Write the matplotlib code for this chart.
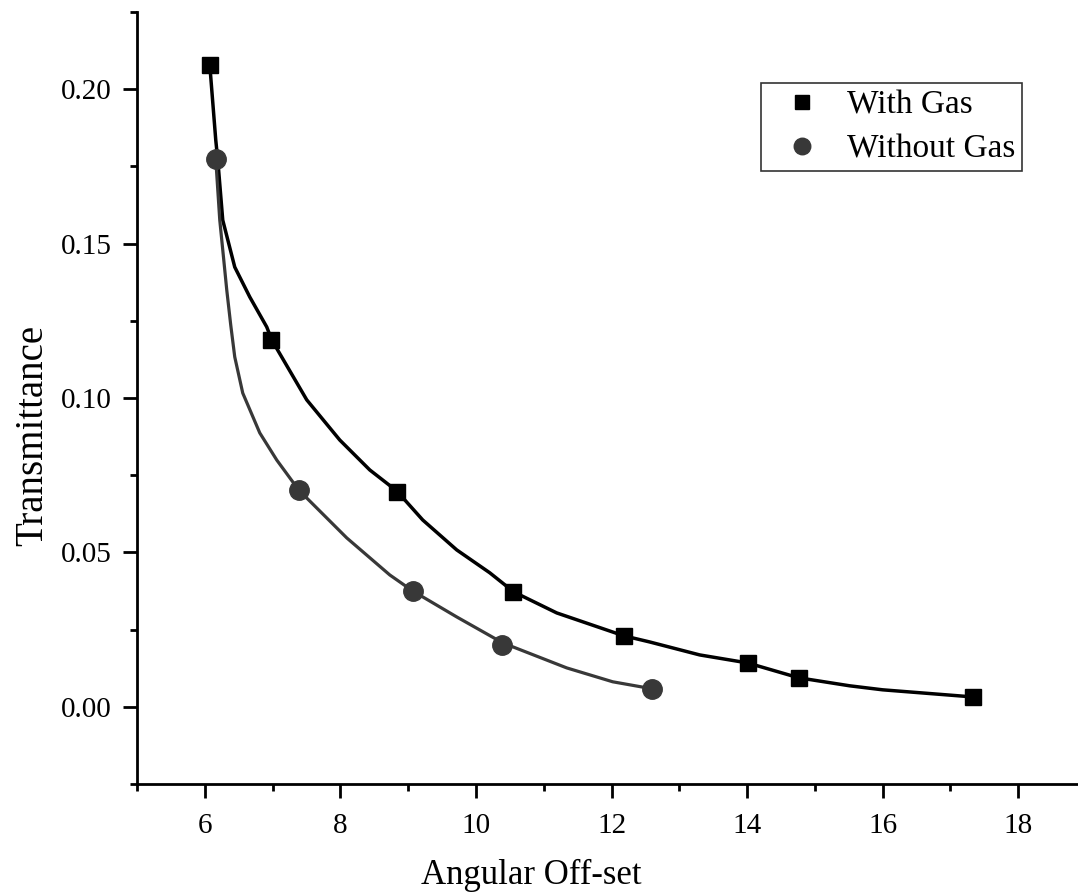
import matplotlib
matplotlib.use("Agg")
import matplotlib.pyplot as plt
from matplotlib.ticker import MultipleLocator, FormatStrFormatter

plt.rcParams["font.family"] = ["Liberation Serif", "DejaVu Serif"]

# measured points
gas_x = [6.07, 6.98, 8.83, 10.54, 12.18, 14.01, 14.76, 17.33]
gas_y = [0.2078, 0.1188, 0.0697, 0.0372, 0.0230, 0.0142, 0.0094, 0.0032]

nogas_x = [6.16, 7.39, 9.07, 10.39, 12.60]
nogas_y = [0.1773, 0.0702, 0.0376, 0.0201, 0.0057]

# smooth curves
gas_curve_x = [6.074, 6.162, 6.192, 6.265, 6.442, 6.664, 6.914, 6.988, 7.504,
               7.991, 8.434, 8.832, 9.215, 9.717, 10.204, 10.558, 11.192,
               12.180, 12.563, 13.301, 14.009, 14.761, 15.513, 16.000, 17.327]
gas_curve_y = [0.2078, 0.1835, 0.1770, 0.1576, 0.1424, 0.1327, 0.1230, 0.1188,
               0.0994, 0.0864, 0.0767, 0.0699, 0.0605, 0.0508, 0.0434, 0.0372,
               0.0304, 0.0230, 0.0210, 0.0168, 0.0142, 0.0094, 0.0068, 0.0055,
               0.0032]

nogas_curve_x = [6.162, 6.221, 6.280, 6.324, 6.383, 6.442, 6.560, 6.811, 7.062,
                 7.386, 8.094, 8.729, 9.068, 9.717, 10.395, 11.339, 12.018,
                 12.608]
nogas_curve_y = [0.1773, 0.1576, 0.1447, 0.1350, 0.1236, 0.1133, 0.1016, 0.0887,
                 0.0799, 0.0702, 0.0547, 0.0427, 0.0375, 0.0291, 0.0207, 0.0126,
                 0.0081, 0.0058]

GRAY = "#383838"

fig = plt.figure(figsize=(10.78, 8.94), dpi=100)
ax = fig.add_axes([137 / 1078, 110 / 894, 949 / 1078, 772 / 894])

ax.plot(gas_curve_x, gas_curve_y, color="black", lw=2.5, zorder=2,
        solid_joinstyle="round")
ax.plot(nogas_curve_x, nogas_curve_y, color=GRAY, lw=2.3, zorder=2,
        solid_joinstyle="round")
ax.plot(gas_x, gas_y, ls="none", marker="s", ms=12, color="black",
        label="With Gas", zorder=3)
ax.plot(nogas_x, nogas_y, ls="none", marker="o", ms=14, color=GRAY,
        label="Without Gas", zorder=3)

ax.set_xlim(5, 19)
ax.set_ylim(-0.025, 0.225)
ax.xaxis.set_major_locator(MultipleLocator(2))
ax.xaxis.set_minor_locator(MultipleLocator(1))
ax.yaxis.set_major_locator(MultipleLocator(0.05))
ax.yaxis.set_minor_locator(MultipleLocator(0.025))
ax.yaxis.set_major_formatter(FormatStrFormatter("%.2f"))

ax.spines["top"].set_visible(False)
ax.spines["right"].set_visible(False)
for s in ("left", "bottom"):
    ax.spines[s].set_linewidth(2.0)

ax.tick_params(which="major", direction="out", length=10, width=2.0,
               labelsize=21)
ax.tick_params(axis="x", which="major", pad=11)
ax.tick_params(axis="y", which="major", pad=8)
ax.tick_params(which="minor", direction="out", length=5, width=2.0)

ax.set_xlabel("Angular Off-set", fontsize=25)
ax.set_ylabel("Transmittance", fontsize=28)
ax.xaxis.set_label_coords(0.416, -0.097)
ax.yaxis.set_label_coords(-0.090, 0.452)

leg = ax.legend(loc="upper right", bbox_to_anchor=(0.9326, 0.908),
                borderaxespad=0, fontsize=24, frameon=True, fancybox=False,
                edgecolor="black", markerscale=0.85, handlelength=2.08,
                handletextpad=0.31, labelspacing=0.42, borderpad=0.2)
leg.get_frame().set_linewidth(1.2)

fig.savefig("out.png", dpi=100)
